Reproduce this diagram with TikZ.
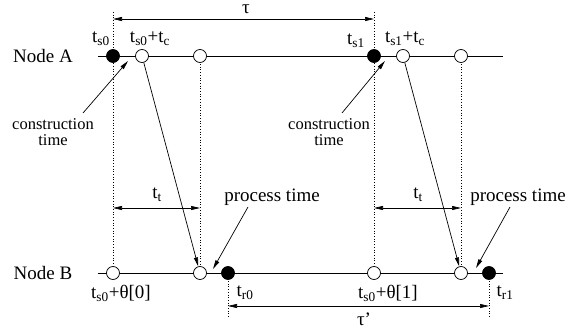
\documentclass[tikz,border=0pt]{standalone}
\usepackage{fontspec}
\setmainfont{Liberation Serif}
\usetikzlibrary{arrows.meta}
\tikzset{
  dot/.style={circle,draw,line width=0.7pt,minimum size=13pt,inner sep=0pt},
  opendot/.style={dot,fill=white},
  fulldot/.style={dot,fill=black},
  tl/.style={line width=0.8pt},
  dl/.style={dotted,line width=0.7pt},
  arr/.style={line width=0.7pt,-{Triangle[length=9pt,width=4pt]}},
  darr/.style={line width=0.7pt,{Triangle[length=9pt,width=4pt]}-{Triangle[length=9pt,width=4pt]}},
  lbl/.style={font=\fontsize{19}{20}\selectfont,inner sep=0pt},
  slbl/.style={font=\fontsize{16.5}{16}\selectfont,inner sep=0pt,align=center},
}
\begin{document}
\begin{tikzpicture}[x=1pt,y=-1pt]
\useasboundingbox (0,0) rectangle (571,331);
% time lines
\coordinate (As) at (98,56); \coordinate (Ae) at (503,56);
\coordinate (Bs) at (98,273); \coordinate (Be) at (503,273);
\draw[tl] (As) -- (Ae);
\draw[tl] (Bs) -- (Be);
% dotted guides
\coordinate (T0) at (113,12); \coordinate (T1) at (374,12);
\coordinate (D0) at (228,318); \coordinate (D1) at (489,318);
\draw[dl] (T0) -- (113,273);
\draw[dl] (200,56) -- (200,273);
\draw[dl] (T1) -- (374,273);
\draw[dl] (461,56) -- (461,273);
\draw[dl] (228,273) -- (D0);
\draw[dl] (489,273) -- (D1);
% dots
\node[fulldot] (A0) at (113,56) {};
\node[opendot] (A1) at (142,56) {};
\node[opendot] (A2) at (200,56) {};
\node[fulldot] (A3) at (374,56) {};
\node[opendot] (A4) at (403,56) {};
\node[opendot] (A5) at (461,56) {};
\node[opendot] (B0) at (113,273) {};
\node[opendot] (B1) at (200,273) {};
\node[fulldot] (B2) at (228,273) {};
\node[opendot] (B3) at (374,273) {};
\node[opendot] (B4) at (461,273) {};
\node[fulldot] (B5) at (489,273) {};
% node labels
\node[lbl] (NA) at (43,56) {Node A};
\node[lbl] (NB) at (43,273) {Node B};
% time labels
\node[lbl] (ls0) at (101,39) {t\textsubscript{s0}};
\node[lbl] (ls0c) at (150,39) {t\textsubscript{s0}+t\textsubscript{c}};
\node[lbl] (ls1) at (356,41) {t\textsubscript{s1}};
\node[lbl] (ls1c) at (405,39) {t\textsubscript{s1}+t\textsubscript{c}};
\node[lbl] (lb0) at (121,293) {t\textsubscript{s0}+θ[0]};
\node[lbl] (lr0) at (245,293) {t\textsubscript{r0}};
\node[lbl] (lb1) at (388,293) {t\textsubscript{s0}+θ[1]};
\node[lbl] (lr1) at (505,293) {t\textsubscript{r1}};
% tau arrows
\coordinate (tauL) at (113,19); \coordinate (tauR) at (374,19);
\draw[darr] (tauL) -- (tauR);
\node[lbl,text height=8pt,text depth=0pt,anchor=base] (tau) at (246,14) {τ};
\coordinate (tpL) at (228,306); \coordinate (tpR) at (489,306);
\draw[darr] (tpL) -- (tpR);
\node[lbl] (taup) at (364,319) {τ’};
% t_t arrows
\coordinate (tt0L) at (113,208); \coordinate (tt0R) at (200,208);
\draw[darr] (tt0L) -- (tt0R);
\node[lbl] (tt0) at (157,195) {t\textsubscript{t}};
\coordinate (tt1L) at (374,208); \coordinate (tt1R) at (461,208);
\draw[darr] (tt1L) -- (tt1R);
\node[lbl] (tt1) at (418,195) {t\textsubscript{t}};
% transmissions
\draw[arr] (A1) -- (B1);
\draw[arr] (A4) -- (B4);
% construction time
\node[slbl] (ct0) at (53,132) {construction\\time};
\node[slbl] (ct1) at (329,132) {construction\\time};
\coordinate (c0s) at (83,113); \coordinate (c0t) at (128,61);
\coordinate (c1s) at (342,113); \coordinate (c1t) at (385,61);
\draw[arr] (c0s) -- (c0t);
\draw[arr] (c1s) -- (c1t);
% process time
\node[lbl] (pt0) at (272,197) {process time};
\node[lbl] (pt1) at (518,197) {process time};
\coordinate (p0s) at (248,207); \coordinate (p0t) at (213,269);
\coordinate (p1s) at (510,207); \coordinate (p1t) at (476,268);
\draw[arr] (p0s) -- (p0t);
\draw[arr] (p1s) -- (p1t);
\end{tikzpicture}
\end{document}
